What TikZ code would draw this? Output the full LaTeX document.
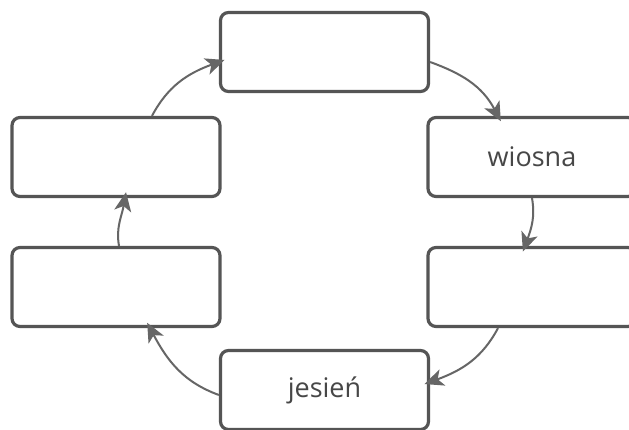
\documentclass[tikz,border=0pt]{standalone}
\usepackage{fontspec}
\setmainfont{Open Sans}
\usetikzlibrary{arrows.meta}
\definecolor{boxline}{HTML}{555555}
\definecolor{arrline}{HTML}{666666}
\definecolor{txt}{HTML}{474747}
\tikzset{
  season/.style={draw=boxline, line width=3.2pt, rounded corners=8pt, fill=white,
    minimum width=208pt, minimum height=79pt, inner sep=0pt, text=txt,
    font=\fontsize{27}{30}\selectfont},
  arr/.style={draw=arrline, line width=2pt,
    -{Stealth[length=19pt, width=17pt, inset=5pt]}, shorten >=-6pt}
}
\begin{document}
\begin{tikzpicture}[x=1pt, y=1pt]
\useasboundingbox (0,0) rectangle (629,430);
\clip (0,0) rectangle (629,430);
\fill[white] (0,0) rectangle (629,430);
\node[season] (top) at (324.5,378) {};
\node[season] (ru) at (532,273) {wiosna};
\node[season] (rl) at (532,143) {};
\node[season] (bot) at (324.5,40) {jesień};
\node[season] (ll) at (116,143) {};
\node[season] (lu) at (116,273) {};
\draw[arr] ([xshift=36pt]lu.north) to[out=62, in=200] ([yshift=-10pt]top.west);
\draw[arr] ([yshift=-10pt]top.east) to[out=-20, in=118] ([xshift=-34pt]ru.north);
\draw[arr] (ru.south) to[out=-80, in=70] ([xshift=-7pt]rl.north);
\draw[arr] ([xshift=-34pt]rl.south) to[out=-118, in=20] ([yshift=8pt]bot.east);
\draw[arr] ([yshift=-5pt]bot.west) to[out=160, in=-62] ([xshift=34pt]ll.south);
\draw[arr] ([xshift=3pt]ll.north) to[out=100, in=-100] ([xshift=9pt]lu.south);
\end{tikzpicture}
\end{document}
